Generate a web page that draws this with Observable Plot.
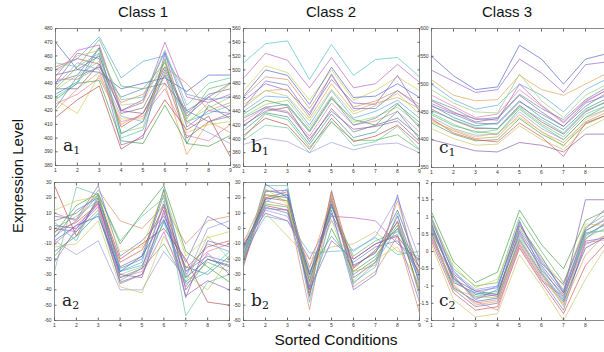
<!DOCTYPE html>
<html><head><meta charset="utf-8">
<script src="https://cdn.jsdelivr.net/npm/d3@7"></script>
<script src="https://cdn.jsdelivr.net/npm/@observablehq/plot@0.6"></script>
<style>
body{margin:0;background:#fff;}
#wrap{position:relative;width:604px;height:352px;overflow:hidden;background:#fff;font-family:"Liberation Sans",Arial,sans-serif;}
.p{position:absolute;}
.t{position:absolute;font-size:15px;color:#111;white-space:nowrap;}
.lab{position:absolute;font-family:"DejaVu Serif","Liberation Serif",serif;font-size:17px;color:#222;}
.lab sub{font-size:11px;vertical-align:-3px;}
</style></head><body><div id="wrap"></div>
<script>
const conditions = [1,2,3,4,5,6,7,8,9];
const titles = ["Class 1","Class 2","Class 3"];
const xLabel = "Sorted Conditions";
const yLabel = "Expression Level";

const a1 = [
[441,446,466,420,428,463,420,430,440],[436,452,472,438,436,455,414,436,440],
[452,458,454,408,418,446,400,412,418],[430,440,462,400,406,448,412,418,424],
[445,464,468,420,426,470,430,426,432],[428,418,446,414,414,448,404,410,412],
[470,450,448,436,440,444,434,446,446],[440,462,458,395,400,462,408,420,418],
[420,436,448,410,418,440,388,412,404],[450,458,474,444,456,460,432,428,430],
[435,446,456,404,408,456,412,422,430],[425,432,444,412,416,436,402,398,410],
[446,450,460,418,422,452,418,432,436],[432,441,466,403,412,458,396,424,414],
[415,428,438,392,402,428,406,416,386],[455,452,462,428,430,464,424,440,444],
[438,455,450,416,412,446,412,404,396],[443,443,452,426,432,452,440,420,426],
[428,440,442,398,396,424,396,394,402],[448,460,464,424,426,458,410,426,440],
[436,436,454,420,418,450,416,430,420],[422,445,452,430,436,440,420,412,416]];
const b1 = [
[510,538,542,486,537,492,515,518,490],[488,524,514,474,518,474,480,508,482],
[470,506,496,456,500,456,470,490,470],[462,500,492,450,504,460,462,480,460],
[455,480,470,438,486,452,450,492,440],[445,470,472,430,480,440,452,460,444],
[440,462,460,420,470,430,440,456,430],[432,450,456,416,462,424,432,446,420],
[425,446,440,404,452,420,426,440,410],[420,440,446,396,444,410,420,430,404],
[412,438,432,392,436,402,410,440,400],[405,430,420,385,430,396,404,420,392],
[398,420,416,380,426,390,396,418,385],[392,401,396,380,395,384,392,394,380],
[460,490,486,444,492,446,455,470,450],[436,456,448,410,458,428,420,450,424],
[450,470,462,426,472,436,448,466,436],[418,444,438,400,440,414,418,426,396],
[430,446,450,412,460,420,430,452,416],[445,484,478,434,494,444,444,470,446],
[402,436,428,388,424,398,398,406,384]];
const c1 = [
[550,515,490,495,570,545,500,545,555],[525,505,485,490,545,520,485,535,540],
[508,480,470,472,516,490,480,500,520],[500,472,455,462,500,480,450,490,510],
[490,466,450,448,518,470,440,480,500],[480,460,440,446,490,460,430,470,490],
[470,450,432,438,480,450,424,460,485],[462,440,425,430,470,440,418,455,475],
[455,435,420,420,462,432,410,450,470],[448,428,412,418,458,428,405,446,462],
[440,420,408,410,450,420,400,440,455],[435,416,402,405,445,414,395,432,450],
[430,410,398,400,438,410,390,428,445],[420,402,390,392,425,400,382,420,440],
[400,390,380,378,395,390,378,410,410],[472,456,436,440,482,456,436,472,495],
[460,446,430,428,468,446,424,466,480],[445,425,415,410,455,425,400,440,462],
[438,412,400,396,430,405,370,430,445],[452,436,422,420,460,436,412,452,468],
[465,448,438,435,500,462,432,468,490],[432,418,405,412,440,415,388,436,455]];
const a2 = [
[-5,5,22,-28,-22,26,-30,-10,-15],[0,8,18,-30,-25,18,-35,-5,-20],
[-10,2,15,-32,-28,10,-28,-15,-10],[5,10,22,-25,-18,25,-40,-20,-25],
[-15,-5,10,-35,-30,5,-25,-30,-18],[28,-5,20,-20,-10,0,-20,-48,-50],
[-28,27,22,-8,8,20,-57,-35,-30],[-8,-17,-8,-40,-40,-15,-32,0,5],
[10,5,25,5,0,15,-10,5,8],[-3,15,23,-10,10,28,-15,-25,-35],
[-12,-10,5,-38,-42,-5,-30,-40,-20],[2,0,18,-30,-32,12,-45,-8,-12],
[-6,12,20,-26,-20,22,-28,-18,-22],[8,6,28,-18,-8,8,-22,8,0],
[-18,-2,12,-34,-26,-10,-35,-22,-28],[-2,4,16,-22,-14,14,-26,-12,-8],
[4,-8,22,-28,-24,4,-36,-28,-15],[-22,0,14,-36,-30,-2,-38,-16,-30],
[12,18,21,-15,-12,24,-18,-6,-2],[-8,2,8,-28,-18,6,-32,-20,-24],
[0,-2,17,-32,-26,16,-44,-34,-40]];
const b2 = [
[-17,20,18,-35,15,-25,-15,0,-30],[-20,25,22,-40,20,-30,-20,5,-35],
[-12,15,12,-30,10,-20,-10,-5,-25],[-25,28,28,-45,25,-35,-25,10,-45],
[-8,12,8,-25,5,-15,-5,20,-20],[-15,18,15,-53,22,-38,-28,-5,-55],
[-22,22,20,-42,0,-28,-18,2,-40],[-10,10,-5,-20,-12,-10,-2,-15,-18],
[-18,24,25,-38,18,-32,-22,8,-32],[-14,14,10,-28,-5,-22,-12,-8,-28],
[-20,29,20,-34,12,-40,-30,22,-38],[-11,16,14,-32,14,-18,-8,-2,-22],
[-24,20,24,-44,24,-26,-14,4,-42],[-16,8,5,-16,-15,-14,-6,-17,-15],
[-10,10,5,-20,8,7,5,-10,-20],[-19,26,16,-36,6,-34,-20,-12,-36],
[-13,19,22,-30,16,-24,-16,12,-26],[-21,13,12,-40,-8,-20,-10,-4,-48],
[-9,22,18,-26,20,-28,-24,18,-30],[-17,17,26,-48,10,-36,-22,0,-34]];
const c2 = [
[0.7,-0.8,-1.3,-1.2,0.5,-0.5,-1.3,0.4,0.7],[0.9,-0.6,-1.1,-1.0,0.8,-0.3,-1.1,0.6,1.0],
[0.5,-1.0,-1.5,-1.4,0.3,-0.7,-1.5,0.2,0.5],[1.15,-0.3,-0.9,-0.6,1.2,0.2,-0.5,0.9,1.2],
[0.2,-1.4,-1.9,-1.8,-0.1,-1.0,-2.0,-0.8,0.2],[0.8,-0.9,-1.2,-1.3,0.6,-0.4,-1.2,1.5,1.5],
[0.6,-0.7,-1.4,-1.1,0.9,-0.6,-1.4,0.5,0.8],[0.4,-1.1,-1.6,-1.5,0.2,-0.8,-1.7,0.3,0.4],
[1.0,-0.5,-1.0,-0.9,1.0,0.0,-0.9,0.7,1.1],[0.3,-1.2,-1.7,-1.6,0.1,-0.9,-1.8,-0.4,0.3],
[0.75,-0.85,-1.25,-1.15,0.45,-0.45,-1.35,0.55,0.6],[0.65,-0.75,-1.35,-1.25,0.55,-0.55,-1.25,0.35,0.9],
[0.85,-0.4,-1.05,-0.8,0.7,-0.2,-1.0,0.8,0.75],[0.55,-1.05,-1.45,-1.35,0.35,-0.65,-1.45,0.1,0.45],
[0.95,-0.65,-1.15,-1.05,0.85,-0.35,-0.95,0.65,1.3],[0.45,-0.95,-1.55,-1.45,0.25,-0.75,-1.55,-0.1,0.55],
[0.7,-0.55,-1.25,-1.0,0.65,-0.25,-1.15,0.45,0.85],[0.6,-1.1,-1.3,-1.35,0.4,-0.6,-1.6,0.5,0.65],
[0.35,-0.7,-1.45,-1.7,0.15,-0.85,-1.3,0.25,0.35],[0.8,-0.8,-1.15,-1.25,0.75,-0.15,-1.2,0.6,0.95]];

const yDomains = {a1:[380,480], b1:[360,560], c1:[350,600], a2:[-60,30], b2:[-60,30], c2:[-2,2]};
const yTicks = {a1:d3.range(380,481,10), b1:d3.range(360,561,20), c1:d3.range(350,601,50),
  a2:d3.range(-60,31,10), b2:d3.range(-60,31,10), c2:[-2,-1.5,-1,-0.5,0,0.5,1,1.5,2]};
const palette = ["#7070d0","#5cb45c","#d85050","#48c0c0","#c05cc0","#d0cc50","#4664c4","#8c60cc",
  "#e0a050","#58a4e0","#9ccc68","#e07aa8","#707070","#3a9090","#b44848","#64c49a",
  "#9898e0","#d48868","#44a044","#c4c464","#8458a8","#5a88b8"];

const panels = [
  {key:"a1", data:a1, left:55, top:28, w:175, h:137},
  {key:"b1", data:b1, left:243, top:28, w:176, h:138},
  {key:"c1", data:c1, left:431, top:28, w:176, h:139},
  {key:"a2", data:a2, left:54, top:182, w:175, h:138},
  {key:"b2", data:b2, left:243, top:182, w:176, h:138},
  {key:"c2", data:c2, left:431, top:182, w:176, h:138}
];
const wrap = document.getElementById("wrap");
const mL=16, mR=2, mT=2, mB=12;
panels.forEach((p, pi) => {
  const rows = [];
  p.data.forEach((s, id) => s.forEach((v, i) => rows.push({id, x: conditions[i], y: v, c: palette[(id + pi*3) % palette.length]})));
  const fmt = d => String(d);
  const blank = () => "";
  const chart = Plot.plot({
    width: p.w + mL + mR, height: p.h + mT + mB,
    marginLeft: mL, marginRight: mR, marginTop: mT, marginBottom: mB,
    x: {domain:[1,9], label:null}, y: {domain: yDomains[p.key], label:null},
    color: {type:"identity"},
    style: {fontFamily:"Liberation Sans, Arial, sans-serif", background:"transparent", overflow:"visible"},
    marks: [
      Plot.frame({fill:"#fff", stroke:"none"}),
      Plot.line(rows, {x:"x", y:"y", z:"id", stroke:"c", strokeWidth:0.85, strokeOpacity:0.78}),
      Plot.frame({stroke:"#8a8a8a", strokeWidth:1}),
      Plot.axisX(conditions, {anchor:"bottom", label:null, tickSize:0, tickPadding:3, fontSize:5, fill:"#333", tickFormat: fmt}),
      Plot.axisX(conditions, {anchor:"bottom", label:null, tickSize:-2.5, stroke:"#666", tickFormat: blank}),
      Plot.axisX(conditions, {anchor:"top", label:null, tickSize:-2.5, stroke:"#666", tickFormat: blank}),
      Plot.axisY(yTicks[p.key], {anchor:"left", label:null, tickSize:0, tickPadding:3, fontSize:5, fill:"#333", tickFormat: fmt}),
      Plot.axisY(yTicks[p.key], {anchor:"left", label:null, tickSize:-2.5, stroke:"#666", tickFormat: blank}),
      Plot.axisY(yTicks[p.key], {anchor:"right", label:null, tickSize:-2.5, stroke:"#666", tickFormat: blank})
    ]
  });
  chart.classList.add("p");
  chart.style.left = (p.left - mL) + "px";
  chart.style.top = (p.top - mT) + "px";
  wrap.appendChild(chart);
  const lab = document.createElement("div");
  lab.className = "lab";
  lab.innerHTML = p.key[0] + "<sub>" + p.key[1] + "</sub>";
  lab.style.left = (p.left + 8) + "px";
  lab.style.top = (p.top + p.h - 30) + "px";
  wrap.appendChild(lab);
});
const centers = [143, 331, 507];
titles.forEach((t, i) => {
  const d = document.createElement("div");
  d.className = "t"; d.textContent = t;
  d.style.left = centers[i] + "px"; d.style.top = "3px"; d.style.transform = "translateX(-50%)";
  wrap.appendChild(d);
});
const xl = document.createElement("div");
xl.className = "t"; xl.textContent = xLabel; xl.style.fontSize = "15.5px";
xl.style.left = "336px"; xl.style.top = "331px"; xl.style.transform = "translateX(-50%)";
wrap.appendChild(xl);
const yl = document.createElement("div");
yl.className = "t"; yl.textContent = yLabel; yl.style.fontSize = "15px";
yl.style.left = "17px"; yl.style.top = "176px"; yl.style.transform = "translate(-50%,-50%) rotate(-90deg)";
wrap.appendChild(yl);
</script></body></html>
